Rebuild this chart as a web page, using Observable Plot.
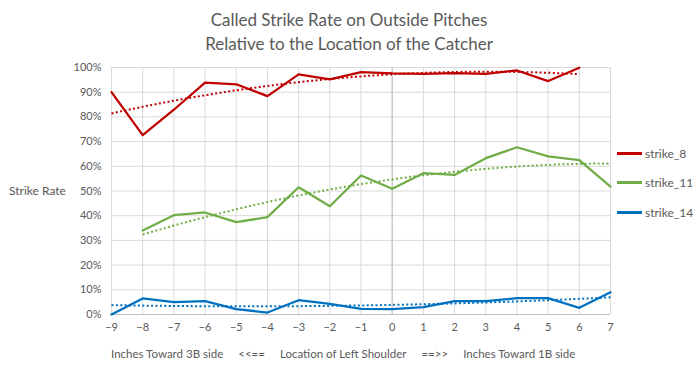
<!DOCTYPE html>
<html>
<head>
<meta charset="utf-8">
<script src="https://cdn.jsdelivr.net/npm/d3@7"></script>
<script src="https://cdn.jsdelivr.net/npm/@observablehq/plot@0.6"></script>
<style>
  body { margin: 0; background: #fff; font-family: Lato, "Open Sans", sans-serif; color: #595959; }
  #wrap { position: relative; width: 698px; height: 374px; overflow: hidden; }
  #wrap svg { position: absolute; left: 0; top: 0; }
  .t { position: absolute; white-space: nowrap; }
  #title { left: 0; width: 698px; top: 8px; text-align: center; font-size: 17px; line-height: 24px; }
  #ylab { left: 9px; top: 183px; font-size: 12px; }
  #cap { left: 111px; top: 347px; font-size: 11.5px; }
  #cap span { display: inline-block; }
  .leg { left: 617px; font-size: 12px; display: flex; align-items: center; }
  .leg span.sw { display: inline-block; width: 25px; height: 2.5px; margin-right: 3px; }
</style>
</head>
<body>
<div id="wrap"></div>
<script>
const xs = d3.range(-9, 8);
const yTicks = d3.range(0, 1.01, 0.1);
const seriesNames = ["strike_8", "strike_11", "strike_14"];
const colors = ["#c00000", "#70ad47", "#0070c0"];

// values per x (-9..7), null = no data
const strike8 = [0.900, 0.726, 0.829, 0.939, 0.932, 0.884, 0.972, 0.952, 0.981, 0.976, 0.974, 0.977, 0.974, 0.988, 0.945, 0.999, null];
const strike11 = [null, 0.340, 0.402, 0.413, 0.374, 0.394, 0.515, 0.438, 0.563, 0.509, 0.572, 0.565, 0.633, 0.677, 0.640, 0.625, 0.518];
const strike14 = [0.000, 0.065, 0.050, 0.054, 0.022, 0.008, 0.058, 0.043, 0.023, 0.022, 0.030, 0.054, 0.054, 0.066, 0.066, 0.027, 0.090];

const allSeries = [strike8, strike11, strike14];

const rows = [];
allSeries.forEach((vals, i) => {
  vals.forEach((v, j) => { if (v != null) rows.push({ x: xs[j], y: v, s: seriesNames[i] }); });
});

// polynomial (order 2) trendline by least squares, over each series' data range
function quadFit(pts) {
  let S = [0,0,0,0,0], T = [0,0,0];
  for (const p of pts) {
    let xp = 1;
    for (let k = 0; k < 5; k++) { S[k] += xp; if (k < 3) T[k] += xp * p.y; xp *= p.x; }
  }
  const A = [[S[0],S[1],S[2],T[0]],[S[1],S[2],S[3],T[1]],[S[2],S[3],S[4],T[2]]];
  for (let i = 0; i < 3; i++) {
    let m = i; for (let r = i+1; r < 3; r++) if (Math.abs(A[r][i]) > Math.abs(A[m][i])) m = r;
    [A[i], A[m]] = [A[m], A[i]];
    for (let r = 0; r < 3; r++) if (r !== i) {
      const f = A[r][i] / A[i][i];
      for (let c = i; c < 4; c++) A[r][c] -= f * A[i][c];
    }
  }
  const c = [A[0][3]/A[0][0], A[1][3]/A[1][1], A[2][3]/A[2][2]];
  const x0 = d3.min(pts, d => d.x), x1 = d3.max(pts, d => d.x);
  const out = [];
  for (let k = 0; k <= 60; k++) { const x = x0 + (x1 - x0) * k / 60; out.push({ x, y: c[0] + c[1]*x + c[2]*x*x }); }
  return out;
}

const trendMarks = seriesNames.map((s, i) =>
  Plot.line(quadFit(rows.filter(r => r.s === s)), { x: "x", y: "y", stroke: colors[i], strokeWidth: 2, strokeDasharray: "2,2.4", strokeLinecap: "butt" })
);

const chart = Plot.plot({
  width: 698, height: 374,
  marginLeft: 111, marginRight: 88, marginTop: 67, marginBottom: 60,
  style: { fontFamily: "Lato, 'Open Sans', sans-serif", fontSize: "11px", color: "#595959", background: "transparent" },
  x: { domain: [-9, 7] },
  y: { domain: [0, 1] },
  marks: [
    Plot.gridX(xs, { stroke: "#d9d9d9", strokeOpacity: 1 }),
    Plot.gridY(yTicks, { stroke: "#d9d9d9", strokeOpacity: 1 }),
    Plot.ruleX([0], { stroke: "#bfbfbf" }),
    Plot.ruleY([0], { stroke: "#bfbfbf" }),
    Plot.axisX(xs, { tickSize: 0, tickPadding: 9, label: null, fill: "#595959" }),
    Plot.axisY(yTicks, { tickSize: 0, tickPadding: 10, tickFormat: d3.format(".0%"), label: null, fill: "#595959" }),
    ...trendMarks,
    Plot.line(rows, { x: "x", y: "y", z: "s", stroke: "s", strokeWidth: 2.25 })
  ],
  color: { domain: seriesNames, range: colors }
});

const wrap = document.getElementById("wrap");
wrap.appendChild(chart);

function addDiv(id, cls, html, style) {
  const d = document.createElement("div");
  if (id) d.id = id;
  d.className = cls;
  d.innerHTML = html;
  if (style) Object.assign(d.style, style);
  wrap.appendChild(d);
}
addDiv("title", "t", "Called Strike Rate on Outside Pitches<br>Relative to the Location of the Catcher");
addDiv("ylab", "t", "Strike Rate");
addDiv("cap", "t",
  '<span style="margin-right:15px">Inches Toward 3B side</span>' +
  '<span style="margin-right:15px">&lt;&lt;==</span>' +
  '<span style="margin-right:15px">Location of Left Shoulder</span>' +
  '<span style="margin-right:15px">==&gt;&gt;</span>' +
  '<span>Inches Toward 1B side</span>');
const legTops = [146, 175, 205];
seriesNames.forEach((s, i) => {
  addDiv(null, "t leg", `<span class="sw" style="background:${colors[i]}"></span>${s}`, { top: legTops[i] + "px" });
});
</script>
</body>
</html>
